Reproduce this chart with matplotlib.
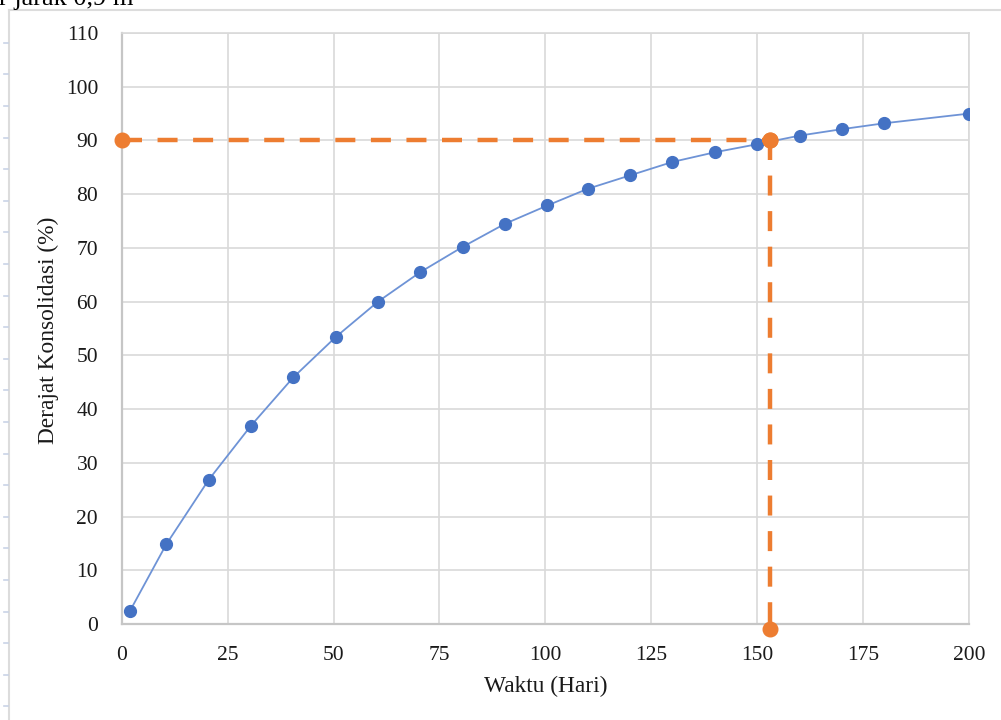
import numpy as np
import matplotlib
matplotlib.use("Agg")
import matplotlib.pyplot as plt
from matplotlib.lines import Line2D

# data
waktu = [2, 10.5, 20.5, 30.5, 40.5, 50.5, 60.5, 70.5, 80.5, 90.5,
         100.5, 110, 120, 130, 140, 150, 160, 170, 180, 200]
derajat = [2.5, 14.8, 26.8, 36.9, 45.9, 53.4, 60.0, 65.5, 70.2, 74.5,
           77.9, 81.0, 83.5, 86.0, 87.8, 89.3, 90.9, 92.1, 93.2, 95.0]

# guide lines for 90 % consolidation
guide_h_x = [0, 153]
guide_h_y = [90, 90]
guide_v_x = [153, 153]
guide_v_y = [90, -1]

xticks = [0, 25, 50, 75, 100, 125, 150, 175, 200]
yticks = [0, 10, 20, 30, 40, 50, 60, 70, 80, 90, 100, 110]

blue = '#4472C4'
orange = '#ED7D31'
grid_c = '#d9d9d9'
serif = 'Liberation Serif'

W, H = 1001, 720
fig = plt.figure(figsize=(W/100, H/100), dpi=100)
ax = fig.add_axes([121.7/W, 1-624/H, (969-121.7)/W, (624-33)/H])

# trend line, then the markers
ax.plot(waktu, derajat, color='#6e93d6', lw=1.3, zorder=3)
ax.plot(waktu, derajat, ls='none', marker='o', ms=8.5,
        mec=blue, mfc=blue, zorder=3)

ax.plot(guide_h_x, guide_h_y, color=orange, lw=3.2, ls=(0, (4.5, 3.5)),
        marker='o', ms=10.5, clip_on=False, zorder=4)
ax.plot(guide_v_x, guide_v_y, color=orange, lw=3.2, ls=(0, (4.5, 3.5)),
        marker='o', ms=10.5, clip_on=False, zorder=4)

ax.set_xlim(0, 200)
ax.set_ylim(0, 110)
ax.set_xticks(xticks)
ax.set_yticks(yticks)
ax.grid(True, color=grid_c, lw=1.2)
ax.set_axisbelow(True)
ax.tick_params(length=0, labelsize=15.5, colors='#1a1a1a')
ax.tick_params(axis='x', pad=16)
ax.tick_params(axis='y', pad=17)
for lab in ax.get_xticklabels() + ax.get_yticklabels():
    lab.set_fontfamily(serif)
for s in ax.spines.values():
    s.set_color(grid_c)
    s.set_linewidth(1.2)
ax.spines['bottom'].set_color('#c6c6c6')
ax.spines['left'].set_color('#c6c6c6')
ax.spines['bottom'].set_linewidth(1.6)
ax.spines['left'].set_linewidth(1.6)

ax.set_xlabel('Waktu (Hari)', fontsize=16.8, family=serif, color='#1a1a1a', va='center')
ax.set_ylabel('Derajat Konsolidasi (%)', fontsize=16.8, family=serif, color='#1a1a1a', va='center')
ax.xaxis.set_label_coords(0.5, (624-686)/591)
ax.yaxis.set_label_coords((48-121.7)/847.3, (624-330)/591)

# frame of the chart area
fig.add_artist(Line2D([9/W, 1], [1-9.5/H, 1-9.5/H], color='#dcdcdc', lw=1.5,
                      transform=fig.transFigure))
fig.add_artist(Line2D([9/W, 9/W], [1-9.5/H, 0], color='#dcdcdc', lw=1.5,
                      transform=fig.transFigure))
for yp in np.arange(42.7, 720, 31.6):
    fig.add_artist(Line2D([4/W, 8/W], [1-yp/H, 1-yp/H], color='#c9d3e6', lw=1.2,
                          transform=fig.transFigure))

# caption cut off at the top
fig.text(-1/W, 1-4.5/H, 'r jarak 0,9 m', fontsize=19, family=serif,
         color='black', ha='left', va='baseline')

fig.savefig('out.png', dpi=100)
